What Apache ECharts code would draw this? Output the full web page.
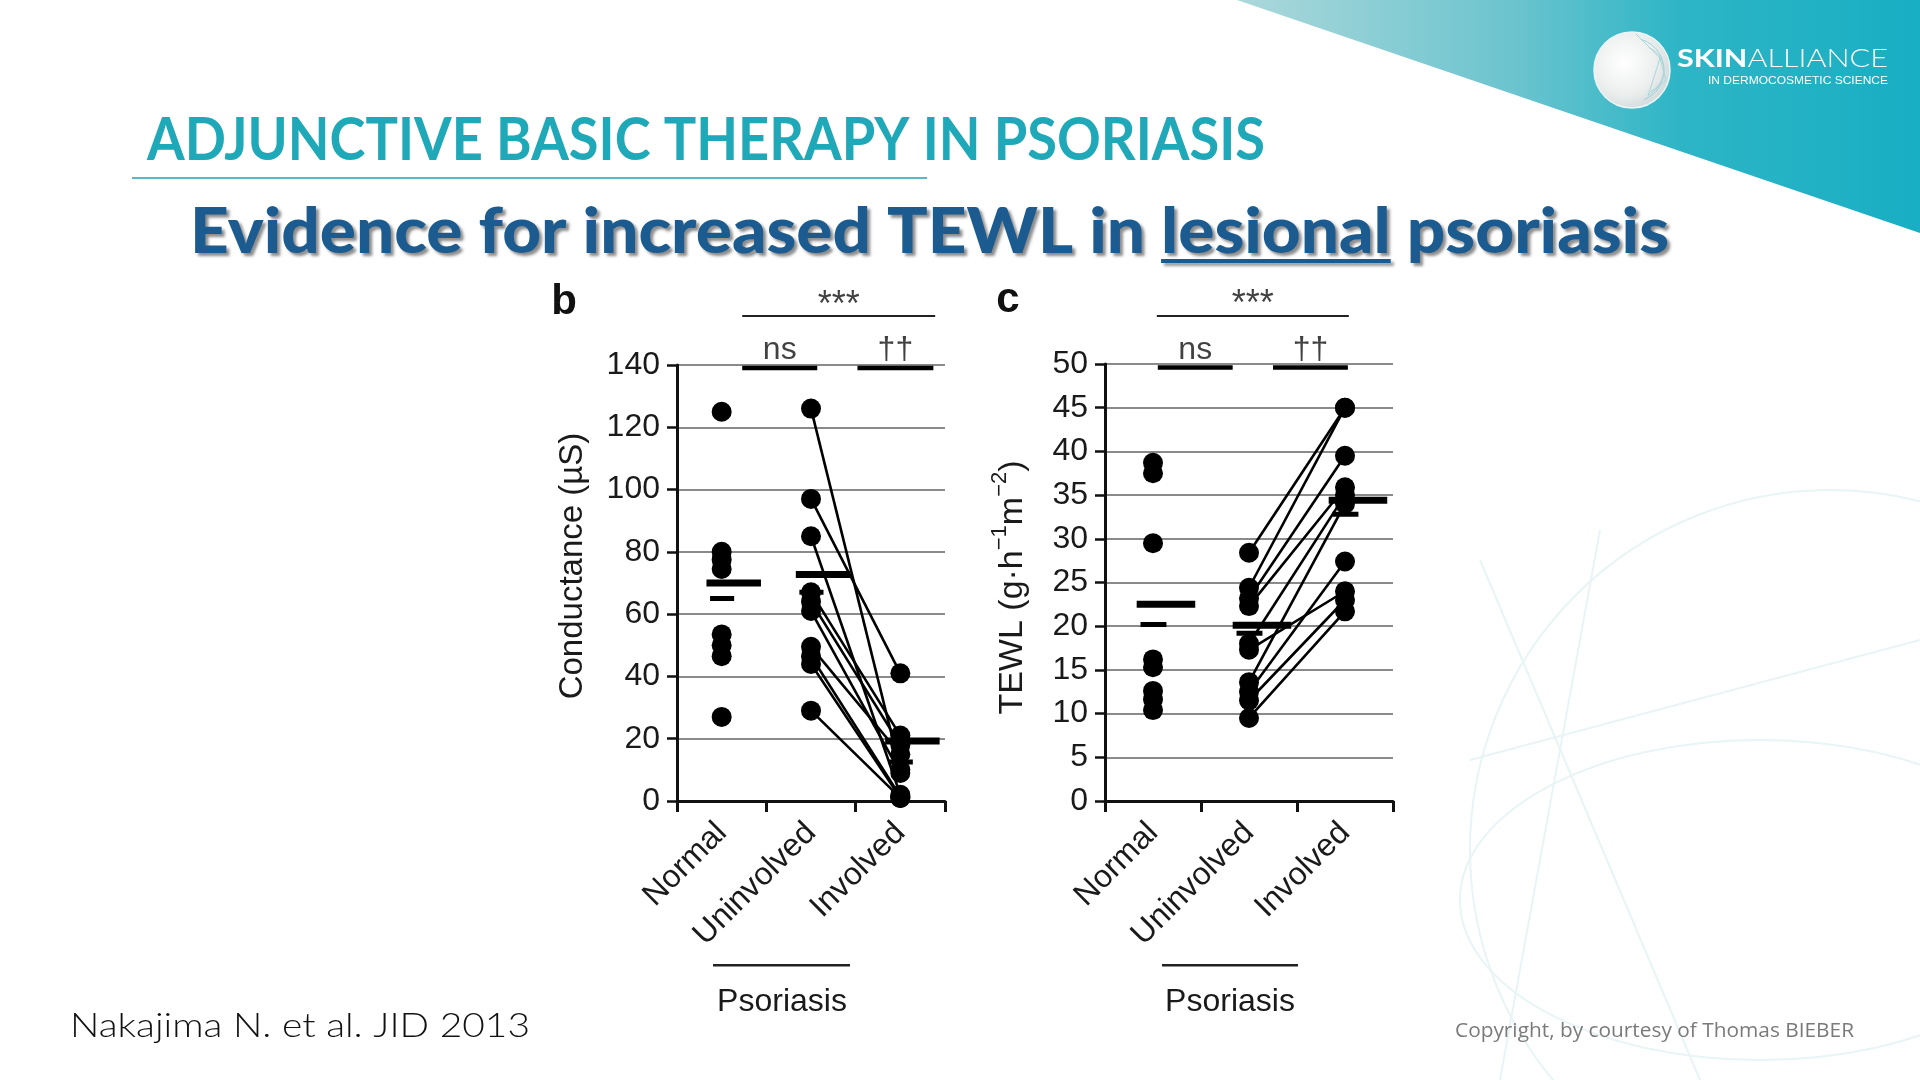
<!DOCTYPE html>
<html><head><meta charset="utf-8">
<script src="https://cdn.jsdelivr.net/npm/echarts@6/dist/echarts.min.js"></script>
<style>html,body{margin:0;padding:0;background:#fff}#main{width:1920px;height:1080px}</style>
</head><body><div id="main"></div>
<script>
// ---------- DATA ----------
const categories = ['Normal', 'Uninvolved', 'Involved'];
// Panel b: Conductance (µS)
const condTickValues = [0, 20, 40, 60, 80, 100, 120, 140];
const condNormal     = [125, 80, 77.5, 74.5, 53.5, 50, 46.5, 27];
const condUninvolved = [126, 97, 85, 67, 64, 61, 49.5, 46.5, 44, 29];
const condInvolved   = [10, 41, 2, 21, 18, 9, 15, 1.5, 1, 1];
const condMean   = [70, 72.7, 19.3];
const condMedian = [65, 67, 12.5];
// Panel c: TEWL (g·h-1·m-2)
const tewlTickValues = [0, 5, 10, 15, 20, 25, 30, 35, 40, 45, 50];
const tewlNormal     = [38.7, 37.5, 29.5, 16.2, 15.3, 12.6, 11.6, 10.4];
const tewlUninvolved = [28.4, 24.4, 23.2, 22.3, 18.0, 17.3, 13.6, 12.5, 11.5, 9.5];
const tewlInvolved   = [45, 45, 39.5, 35.9, 35, 24, 34, 27.4, 23, 21.7];
const tewlMean   = [22.5, 20.1, 34.4];
const tewlMedian = [20.2, 19.2, 32.8];
// significance annotations (category-unit spans, value level)
const sigB = [['ns', 0.73, 1.57, 139], ['††', 2.02, 2.87, 139], ['***', 0.73, 2.89, 155.7]];
const sigC = [['ns', 0.55, 1.33, 49.6], ['††', 1.75, 2.53, 49.6], ['***', 0.54, 2.54, 55.5]];

// ---------- helpers ----------
const FONT = '"Liberation Sans", Arial, Helvetica, sans-serif';
const ctx = document.createElement('canvas').getContext('2d');
function measure(text, weight, size, family) { ctx.font = weight + ' ' + size + 'px ' + family; return ctx.measureText(text).width; }
function fitText(text, x, y, capH, targetW, weight, family, fill, extra) {
  const fs = capH / 0.72;
  const w = measure(text, weight, fs, family);
  const sx = targetW / w;
  return { el: { type: 'text', x: x, y: y, scaleX: sx, silent: true,
    style: Object.assign({ text: text, fontSize: fs, fontWeight: weight, fontFamily: family, fill: fill,
      align: 'left', verticalAlign: 'middle' }, extra || {}) }, fs: fs, sx: sx };
}

const chart = echarts.init(document.getElementById('main'), null, { renderer: 'canvas' });

function axesFor(gridIdx, nameText, nameGap, nameStyle, minV, maxV, step) {
  const cat = {
    type: 'category', gridIndex: gridIdx, data: categories, boundaryGap: true,
    axisLine: { lineStyle: { color: '#111', width: 3 } },
    axisTick: { show: true, length: 11, lineStyle: { color: '#111', width: 3 } },
    axisLabel: { rotate: 45, fontSize: 32, color: '#1a1a1a', fontFamily: FONT, margin: 27 },
    splitLine: { show: false }
  };
  const val = { type: 'value', gridIndex: gridIdx, min: 0, max: 3, show: false };
  const y = {
    type: 'value', gridIndex: gridIdx, min: minV, max: maxV, interval: step,
    name: nameText, nameLocation: 'middle', nameGap: nameGap,
    nameTextStyle: Object.assign({ fontSize: 33, color: '#1a1a1a', fontFamily: FONT }, nameStyle || {}),
    axisLine: { show: true, lineStyle: { color: '#111', width: 3 } },
    axisTick: { show: true, length: 10, lineStyle: { color: '#111', width: 2.5 } },
    axisLabel: { fontSize: 32, color: '#1a1a1a', fontFamily: FONT, margin: 17 },
    splitLine: { show: true, lineStyle: { color: '#8a8a8a', width: 2 } }
  };
  return { cat, val, y };
}

const aB = axesFor(0, 'Conductance (µS)', 88, { padding: [0, 0, 0, 34] },
  condTickValues[0], condTickValues[condTickValues.length - 1], condTickValues[1] - condTickValues[0]);
const aC = axesFor(1, 'TEWL (g·h{s|−1}m{s|−2})', 68,
  { fontSize: 34, lineHeight: 48, padding: [0, 10, 0, 0],
    rich: { s: { fontSize: 22, lineHeight: 22, verticalAlign: 'top', color: '#1a1a1a', fontFamily: FONT } } },
  tewlTickValues[0], tewlTickValues[tewlTickValues.length - 1], tewlTickValues[1] - tewlTickValues[0]);

function panelSeries(xVal, yIdx, normal, uninv, inv, mean, median, sig) {
  const s = [];
  const dot = 20;
  s.push({ type: 'scatter', xAxisIndex: xVal, yAxisIndex: yIdx, symbol: 'circle', symbolSize: dot,
    itemStyle: { color: '#000', opacity: 1 }, data: normal.map(v => [0.5, v]), z: 4 });
  uninv.forEach((u, i) => {
    s.push({ type: 'line', xAxisIndex: xVal, yAxisIndex: yIdx, data: [[1.5, u], [2.5, inv[i]]],
      symbol: 'circle', symbolSize: dot, showSymbol: true, itemStyle: { color: '#000', opacity: 1 },
      lineStyle: { color: '#000', width: 2.6 }, z: 3 });
  });
  mean.forEach((m, i) => {
    s.push({ type: 'line', xAxisIndex: xVal, yAxisIndex: yIdx, symbol: 'none',
      data: [[i + 0.5 - 0.17, m], [i + 0.5 + 0.44, m]], lineStyle: { color: '#000', width: 7, cap: 'butt' }, z: 5 });
  });
  median.forEach((m, i) => {
    s.push({ type: 'line', xAxisIndex: xVal, yAxisIndex: yIdx, symbol: 'none',
      data: [[i + 0.5 - 0.13, m], [i + 0.5 + 0.14, m]], lineStyle: { color: '#000', width: 5, cap: 'butt' }, z: 5 });
  });
  sig.forEach(([txt, a, b, lvl]) => {
    const big = txt === '***';
    s.push({ type: 'line', xAxisIndex: xVal, yAxisIndex: yIdx, symbol: 'none', clip: false,
      lineStyle: { color: big ? '#222' : '#000', width: big ? 2 : 4.5, cap: 'butt' }, z: 5,
      data: [[a, lvl], [b, lvl]] });
    s.push({ type: 'scatter', xAxisIndex: xVal, yAxisIndex: yIdx, clip: false, symbol: 'circle', symbolSize: 1,
      itemStyle: { color: 'rgba(0,0,0,0)' }, z: 6,
      label: { show: true, formatter: txt, position: 'top', distance: big ? -8 : 1,
        fontSize: big ? 36 : 32, color: '#111', fontFamily: FONT },
      data: [[(a + b) / 2, lvl]] });
  });
  return s;
}

const series = [].concat(
  panelSeries(1, 0, condNormal, condUninvolved, condInvolved, condMean, condMedian, sigB),
  panelSeries(3, 1, tewlNormal, tewlUninvolved, tewlInvolved, tewlMean, tewlMedian, sigC)
);
series.forEach(s => { s.animation = false; s.silent = true; });

// ---------- slide decorations ----------
const graphics = [];
// faint globe lines bottom-right
const faint = { stroke: '#e8f4f5', lineWidth: 2, fill: null };
graphics.push({ type: 'circle', shape: { cx: 1830, cy: 850, r: 360 }, style: faint, silent: true, z: -10 });
graphics.push({ type: 'ellipse', shape: { cx: 1760, cy: 900, rx: 300, ry: 160 }, style: faint, silent: true, z: -10 });
graphics.push({ type: 'polyline', shape: { points: [[1480, 560], [1700, 1080]] }, style: faint, silent: true, z: -10 });
graphics.push({ type: 'polyline', shape: { points: [[1470, 760], [1920, 640]] }, style: faint, silent: true, z: -10 });
graphics.push({ type: 'polyline', shape: { points: [[1600, 530], [1500, 1080]] }, style: faint, silent: true, z: -10 });
// teal triangle
graphics.push({ type: 'polygon', silent: true, z: -5, shape: { points: [[1237, 0], [1920, 0], [1920, 233]] },
  style: { fill: new echarts.graphic.LinearGradient(0, 0, 1, 0, [
    { offset: 0, color: '#acd8db' }, { offset: 0.4, color: '#6cc4ce' }, { offset: 0.65, color: '#2db5c6' }, { offset: 1, color: '#18aec3' }]) } });
// logo circle
graphics.push({ type: 'circle', silent: true, shape: { cx: 1632, cy: 70, r: 38 },
  style: { fill: new echarts.graphic.RadialGradient(0.4, 0.4, 0.7, [
    { offset: 0, color: '#ffffff' }, { offset: 0.6, color: '#eceeee' }, { offset: 1, color: '#c9d3d5' }]), stroke: '#e8f6f7', lineWidth: 1.5 } });
graphics.push({ type: 'arc', silent: true, shape: { cx: 1632, cy: 70, r: 32, startAngle: -1.3, endAngle: 1.2 },
  style: { stroke: '#9fd3d9', lineWidth: 1, fill: null } });
graphics.push({ type: 'arc', silent: true, shape: { cx: 1640, cy: 70, r: 24, startAngle: -1.2, endAngle: 1.1 },
  style: { stroke: '#a9d7dc', lineWidth: 1, fill: null } });
graphics.push({ type: 'polyline', silent: true, shape: { points: [[1636, 34], [1660, 58], [1648, 96], [1666, 80], [1660, 58]] },
  style: { stroke: '#a9d7dc', lineWidth: 1, fill: null } });
// logo text
{
  const fs = 18 / 0.72;
  const w1 = measure('SKIN', 700, fs, 'Lato'), w2 = measure('ALLIANCE', 300, fs, 'Lato');
  const sx = 211 / (w1 + w2);
  graphics.push({ type: 'text', x: 1677, y: 59, scaleX: sx, silent: true, style: { text: 'SKIN', fontSize: fs, fontWeight: 700, fontFamily: 'Lato', fill: '#fff', align: 'left', verticalAlign: 'middle' } });
  graphics.push({ type: 'text', x: 1677 + w1 * sx, y: 59, scaleX: sx, silent: true, style: { text: 'ALLIANCE', fontSize: fs, fontWeight: 300, fontFamily: 'Lato', fill: '#fff', align: 'left', verticalAlign: 'middle' } });
}
graphics.push(fitText('IN DERMOCOSMETIC SCIENCE', 1708, 81, 8.5, 180, 400, '"Liberation Sans", Arial', '#ffffff').el);
// section title
graphics.push(fitText('ADJUNCTIVE BASIC THERAPY IN PSORIASIS', 147, 141, 42, 1118, 700, 'Lato', '#1fa8b8').el);
graphics.push({ type: 'rect', silent: true, shape: { x: 132, y: 177, width: 795, height: 2 }, style: { fill: '#56b9c6' } });
// subtitle
{
  const pre = 'Evidence for increased TEWL in ', word = 'lesional', post = ' psoriasis';
  const full = pre + word + post;
  const shadow = { textShadowColor: 'rgba(0,0,0,0.45)', textShadowBlur: 3, textShadowOffsetX: 3, textShadowOffsetY: 3 };
  const f = fitText(full, 190, 233, 45, 1479, 900, 'Lato', '#1c5b8f', shadow);
  graphics.push(f.el);
  const wPre = measure(pre, 900, f.fs, 'Lato') * f.sx, wWord = measure(word, 900, f.fs, 'Lato') * f.sx;
  graphics.push({ type: 'rect', silent: true, shape: { x: 190 + wPre, y: 259, width: wWord, height: 4 },
    style: { fill: '#1c5b8f', shadowColor: 'rgba(0,0,0,0.4)', shadowBlur: 3, shadowOffsetX: 3, shadowOffsetY: 3 } });
}
// footnotes
graphics.push(fitText('Nakajima N. et al. JID 2013', 70, 1026, 24, 460, 300, 'Lato', '#111').el);
graphics.push(fitText('Copyright, by courtesy of Thomas BIEBER', 1455, 1031, 14.5, 399, 400, '"Open Sans"', '#7a7a7a').el);
// panel letters
graphics.push({ type: 'text', x: 564, y: 302, silent: true, style: { text: 'b', fontSize: 42, fontWeight: 700, fontFamily: FONT, fill: '#111', align: 'center', verticalAlign: 'middle' } });
graphics.push({ type: 'text', x: 1008, y: 300, silent: true, style: { text: 'c', fontSize: 42, fontWeight: 700, fontFamily: FONT, fill: '#111', align: 'center', verticalAlign: 'middle' } });
// Psoriasis group brackets
[[713, 850, 782], [1162, 1298, 1230]].forEach(([a, b, c]) => {
  graphics.push({ type: 'rect', silent: true, shape: { x: a, y: 964, width: b - a, height: 2.5 }, style: { fill: '#222' } });
  graphics.push({ type: 'text', x: c, y: 1002, silent: true, style: { text: 'Psoriasis', fontSize: 32, fontFamily: FONT, fill: '#1a1a1a', align: 'center', verticalAlign: 'middle' } });
});

chart.setOption({
  backgroundColor: '#ffffff',
  animation: false,
  textStyle: { fontFamily: FONT },
  grid: [
    { left: 677, top: 365, width: 268, height: 436, containLabel: false },
    { left: 1105, top: 364, width: 288, height: 437, containLabel: false }
  ],
  xAxis: [aB.cat, aB.val, aC.cat, aC.val],
  yAxis: [aB.y, aC.y],
  series: series,
  graphic: graphics
});
</script></body></html>
